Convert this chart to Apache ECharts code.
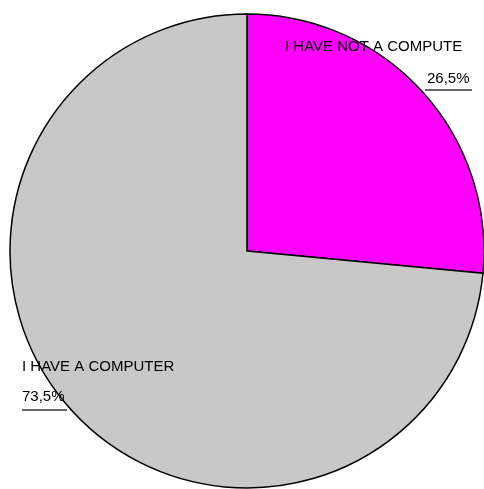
<!DOCTYPE html>
<html>
<head>
<meta charset="utf-8">
<script src="https://cdn.jsdelivr.net/npm/echarts@6/dist/echarts.min.js"></script>
<style>
  html, body { margin: 0; padding: 0; background: #fff; }
  #chart { width: 484px; height: 489px; }
</style>
</head>
<body>
<div id="chart"></div>
<script>
// Share of respondents by computer ownership
const categories = ['I HAVE NOT A COMPUTE', 'I HAVE A COMPUTER'];
const values = [26.5, 73.5];
const sliceColors = ['#ff00ff', '#c8c8c8'];

const fmt = v => v.toFixed(1).replace('.', ',') + '%';

const chart = echarts.init(document.getElementById('chart'));
const textStyle = { fontFamily: 'Liberation Sans, Arial', fontSize: 15, fill: '#000' };

chart.setOption({
  animation: false,
  series: [{
    type: 'pie',
    center: [247, 251],
    radius: 237,
    startAngle: 90,
    clockwise: true,
    label: { show: false },
    labelLine: { show: false },
    itemStyle: { borderColor: '#000', borderWidth: 1.5 },
    emphasis: { disabled: true },
    data: categories.map((name, i) => ({
      name, value: values[i], itemStyle: { color: sliceColors[i] }
    }))
  }],
  graphic: {
    elements: [
      { type: 'text', z: 100, left: 285, top: 39, style: Object.assign({ text: categories[0] }, textStyle) },
      { type: 'text', z: 100, left: 427, top: 71, style: Object.assign({ text: fmt(values[0]) }, textStyle) },
      { type: 'line', z: 100, shape: { x1: 425, y1: 90, x2: 472, y2: 90 }, style: { stroke: '#333', lineWidth: 1.5 } },
      { type: 'text', z: 100, left: 22, top: 359, style: Object.assign({ text: categories[1] }, textStyle) },
      { type: 'text', z: 100, left: 22, top: 389, style: Object.assign({ text: fmt(values[1]) }, textStyle) },
      { type: 'line', z: 100, shape: { x1: 22, y1: 410, x2: 67, y2: 410 }, style: { stroke: '#333', lineWidth: 1.5 } }
    ]
  }
});
</script>
</body>
</html>
